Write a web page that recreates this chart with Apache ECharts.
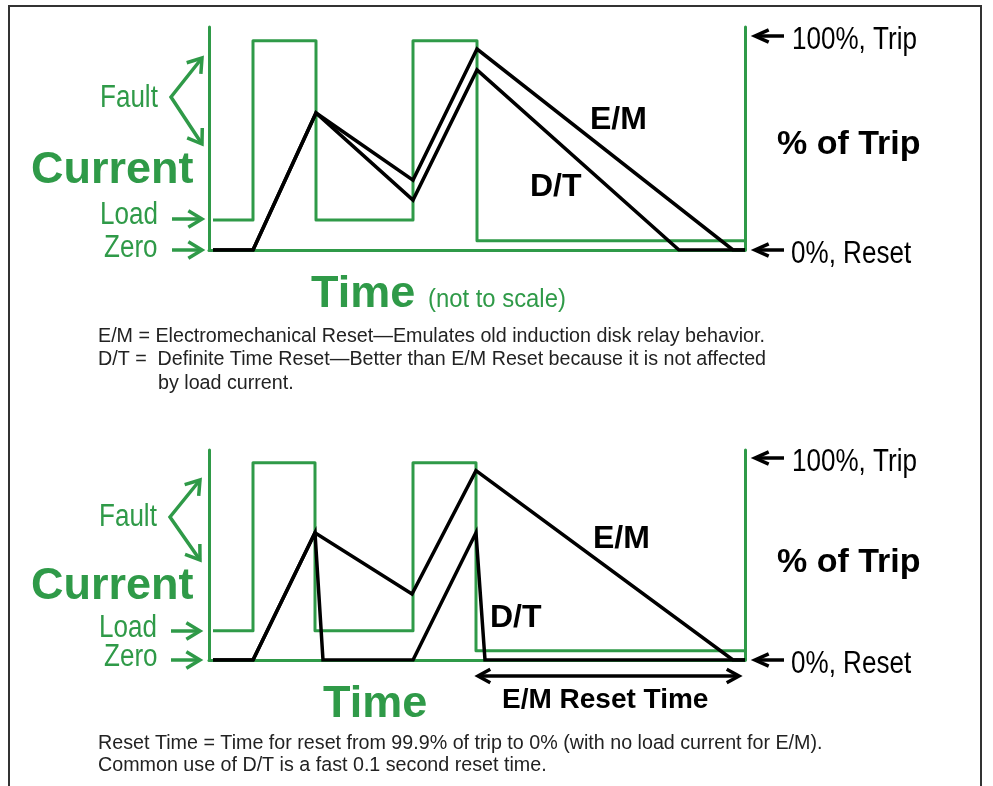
<!DOCTYPE html>
<html>
<head>
<meta charset="utf-8">
<script src="https://cdn.jsdelivr.net/npm/echarts@6/dist/echarts.min.js"></script>
<style>
html,body{margin:0;padding:0;background:#fff;}
#chart{width:993px;height:786px;}
</style>
</head>
<body>
<div id="chart"></div>
<script>
// ---- data (time in arbitrary units, not to scale; level in % of trip / relative current) ----
const topCurrent = [[4,14],[44,14],[44,97.6],[107,97.6],[107,14],[204,14],[204,97.6],[268,97.6],[268,4.3],[536,4.3]];
const topEM      = [[4,0],[44,0],[107,63.9],[204,32.6],[268,93.7],[524,0],[536,0]];
const topDT      = [[4,0],[44,0],[107,63.9],[204,23.3],[268,84],[470,0],[536,0]];
const botCurrent = [[4,14.5],[44,14.5],[44,97.7],[106,97.7],[106,14.5],[204,14.5],[204,97.7],[267,97.7],[267,4.6],[536,4.6]];
const botEM      = [[4,0],[44,0],[106,63],[203,32.7],[267,93.8],[524,0],[536,0]];
const botDT      = [[4,0],[44,0],[106,63],[114,0],[204,0],[267,63],[276,0],[536,0]];
const timeRange  = [0, 536];
const levelRange = [0, 104];

const GREEN = '#2f9a48';
const BLACK = '#000';
const FONT = '"Liberation Sans", Arial, Helvetica, sans-serif';

const chart = echarts.init(document.getElementById('chart'), null, {renderer:'canvas'});

function axisSet(gi){
  const line = {show:true, onZero:false, lineStyle:{color:GREEN, width:3}};
  return {
    x: {type:'value', gridIndex:gi, min:timeRange[0], max:timeRange[1], axisLine:line,
        axisTick:{show:false}, axisLabel:{show:false}, splitLine:{show:false}},
    yl: {type:'value', gridIndex:gi, position:'left', min:levelRange[0], max:levelRange[1], axisLine:line,
        axisTick:{show:false}, axisLabel:{show:false}, splitLine:{show:false}},
    yr: {type:'value', gridIndex:gi, position:'right', min:levelRange[0], max:levelRange[1], axisLine:line,
        axisTick:{show:false}, axisLabel:{show:false}, splitLine:{show:false}}
  };
}
const a0 = axisSet(0), a1 = axisSet(1);

function lineSeries(data, xi, yi, color, width, join, z){
  return {type:'line', xAxisIndex:xi, yAxisIndex:yi, data:data, symbol:'none', silent:true,
    lineStyle:{color:color, width:width, join:join, cap:'butt'}, z:z, animation:false};
}

function txt(x, y, text, size, color, bold, sx){
  return {type:'text', x:x, y:y + size*0.075, scaleX:sx||1, z:50, silent:true,
    style:{text:text, font:(bold?'bold ':'')+size+'px '+FONT, fill:color,
      align:'left', verticalAlign:'middle', textAlign:'left', textVerticalAlign:'middle'}};
}
function head(tx, ty, fx, fy, len, ang, color, w){
  const dx = tx-fx, dy = ty-fy, L = Math.hypot(dx,dy), ux = dx/L, uy = dy/L;
  const c = Math.cos(ang), s = Math.sin(ang);
  const p1 = [tx - len*(ux*c - uy*s), ty - len*(uy*c + ux*s)];
  const p2 = [tx - len*(ux*c + uy*s), ty - len*(uy*c - ux*s)];
  return {type:'polyline', z:50, silent:true, shape:{points:[p1,[tx,ty],p2]},
    style:{stroke:color, lineWidth:w, fill:null, lineJoin:'miter', lineCap:'butt'}};
}
function arrow(x1,y1,x2,y2,color,len,ang,w){
  return [
    {type:'line', z:50, silent:true, shape:{x1:x1,y1:y1,x2:x2,y2:y2}, style:{stroke:color, lineWidth:w}},
    head(x2,y2,x1,y1,len,ang,color,w)
  ];
}
function chevron(vx,vy,ux,uy,lx,ly){
  return [
    {type:'polyline', z:50, silent:true, shape:{points:[[ux,uy],[vx,vy],[lx,ly]]},
      style:{stroke:GREEN, lineWidth:3.5, fill:null, lineJoin:'miter'}},
    head(ux,uy,vx,vy,16,0.6,GREEN,3.5),
    head(lx,ly,vx,vy,16,0.6,GREEN,3.5)
  ];
}

const NS = 0.84; // condensed text scale
let g = [];
g.push({type:'rect', z:1, silent:true, shape:{x:9,y:6,width:972,height:800}, style:{stroke:'#333', lineWidth:2, fill:null}});

// ---- top panel labels ----
g.push(txt(100, 96, 'Fault', 31, GREEN, false, NS));
g = g.concat(chevron(171,97,202,58,202,144));
g.push(txt(31, 167.5, 'Current', 45, GREEN, true));
g.push(txt(100, 213, 'Load', 31, GREEN, false, NS));
g = g.concat(arrow(172,219,202,219,GREEN,16,0.55,3.5));
g.push(txt(104, 246, 'Zero', 31, GREEN, false, NS));
g = g.concat(arrow(172,250,202,250,GREEN,16,0.55,3.5));
g.push(txt(311, 291, 'Time', 45, GREEN, true));
g.push(txt(428, 298, '(not to scale)', 26.5, GREEN, false, 0.9));
g = g.concat(arrow(784,36,755,36,BLACK,15,0.42,3.5));
g.push(txt(792, 38, '100%, Trip', 31, BLACK, false, NS));
g = g.concat(arrow(784,250,755,250,BLACK,15,0.42,3.5));
g.push(txt(791, 252, '0%, Reset', 31, BLACK, false, NS));
g.push(txt(777, 142, '% of Trip', 34, BLACK, true));
g.push(txt(590, 118, 'E/M', 32, BLACK, true));
g.push(txt(530, 185, 'D/T', 32, BLACK, true));
g.push(txt(98, 335, 'E/M = Electromechanical Reset\u2014Emulates old induction disk relay behavior.', 19.7, '#222', false));
g.push(txt(98, 358.5, 'D/T =  Definite Time Reset\u2014Better than E/M Reset because it is not affected', 19.7, '#222', false));
g.push(txt(158, 382, 'by load current.', 19.7, '#222', false));

// ---- bottom panel labels ----
g.push(txt(99, 515.5, 'Fault', 31, GREEN, false, NS));
g = g.concat(chevron(170,517,200,480,200,560));
g.push(txt(31, 583, 'Current', 45, GREEN, true));
g.push(txt(99, 626, 'Load', 31, GREEN, false, NS));
g = g.concat(arrow(171,631,200,631,GREEN,16,0.55,3.5));
g.push(txt(104, 655, 'Zero', 31, GREEN, false, NS));
g = g.concat(arrow(171,660,200,660,GREEN,16,0.55,3.5));
g.push(txt(323, 701, 'Time', 45, GREEN, true));
g = g.concat(arrow(784,458,755,458,BLACK,15,0.42,3.5));
g.push(txt(792, 460.5, '100%, Trip', 31, BLACK, false, NS));
g = g.concat(arrow(784,660,755,660,BLACK,15,0.42,3.5));
g.push(txt(791, 662, '0%, Reset', 31, BLACK, false, NS));
g.push(txt(777, 560, '% of Trip', 34, BLACK, true));
g.push(txt(593, 537, 'E/M', 32, BLACK, true));
g.push(txt(490, 616, 'D/T', 32, BLACK, true));
g = g.concat(arrow(600,676,478,676,BLACK,14,0.5,3.5));
g = g.concat(arrow(600,676,739,676,BLACK,14,0.5,3.5));
g.push(txt(502, 698, 'E/M Reset Time', 28, BLACK, true));
g.push(txt(98, 742, 'Reset Time = Time for reset from 99.9% of trip to 0% (with no load current for E/M).', 19.7, '#222', false));
g.push(txt(98, 764.5, 'Common use of D/T is a fast 0.1 second reset time.', 19.7, '#222', false));

chart.setOption({
  animation:false,
  backgroundColor:'#fff',
  grid:[
    {left:209, top:27, width:536, height:223},
    {left:209, top:450, width:536, height:210}
  ],
  xAxis:[a0.x, a1.x],
  yAxis:[a0.yl, a0.yr, a1.yl, a1.yr],
  series:[
    lineSeries(topCurrent, 0, 0, GREEN, 3, 'round', 2),
    lineSeries(topDT, 0, 0, BLACK, 3.5, 'miter', 3),
    lineSeries(topEM, 0, 0, BLACK, 3.5, 'miter', 3),
    lineSeries(botCurrent, 1, 2, GREEN, 3, 'round', 2),
    lineSeries(botDT, 1, 2, BLACK, 3.5, 'miter', 3),
    lineSeries(botEM, 1, 2, BLACK, 3.5, 'miter', 3)
  ],
  graphic:{elements:g}
});
</script>
</body>
</html>
